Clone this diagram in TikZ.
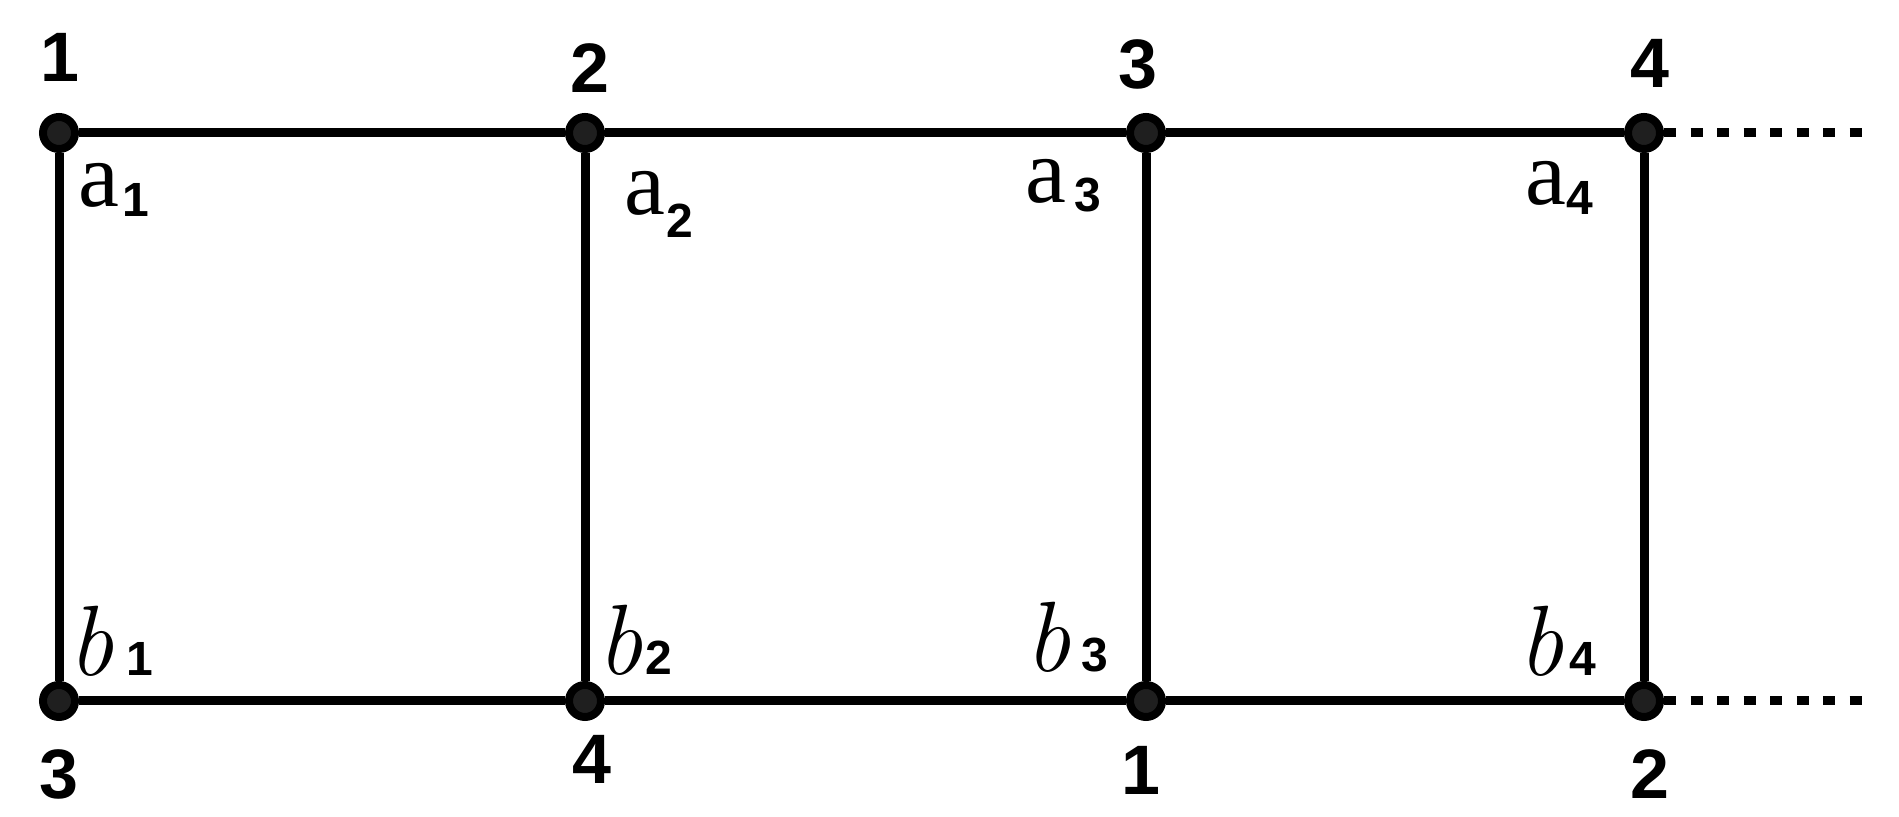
\documentclass[tikz,border=0pt]{standalone}
\usepackage{fontspec}
\newfontfamily\numfont{Liberation Sans}
\newfontfamily\serifa{Liberation Serif}
\newcommand\subf{\numfont\upshape\bfseries\fontsize{24}{28}\selectfont}
\newcommand\afnt{\serifa\fontsize{46}{50}\selectfont}
\newcommand\bfnt{\itshape\fontsize{50}{55}\selectfont}
\begin{document}
\begin{tikzpicture}[x=1pt,y=1pt,
  edge/.style={line width=4.5pt},
  dotline/.style={line width=4.5pt, dash pattern=on 6pt off 7.25pt},
  vtx/.style={circle, draw=black, fill=black!88, line width=4pt, minimum size=16pt, inner sep=0pt},
  num/.style={inner sep=0pt, font=\numfont\bfseries\fontsize{35}{40}\selectfont},
  lab/.style={inner sep=0pt, anchor=base west}]
\useasboundingbox (0,0) rectangle (949.5,408.5);
% vertices
\node[vtx] (a1) at (29.5,342) {};
\node[vtx] (a2) at (292.5,342) {};
\node[vtx] (a3) at (573,342) {};
\node[vtx] (a4) at (822,342) {};
\node[vtx] (b1) at (29.5,58) {};
\node[vtx] (b2) at (292.5,58) {};
\node[vtx] (b3) at (573,58) {};
\node[vtx] (b4) at (822,58) {};
\coordinate (ea) at (934,342);
\coordinate (eb) at (937,58);
% edges
\draw[edge] (a1) -- (a2);
\draw[edge] (a2) -- (a3);
\draw[edge] (a3) -- (a4);
\draw[edge] (b1) -- (b2);
\draw[edge] (b2) -- (b3);
\draw[edge] (b3) -- (b4);
\draw[edge] (a1) -- (b1);
\draw[edge] (a2) -- (b2);
\draw[edge] (a3) -- (b3);
\draw[edge] (a4) -- (b4);
\draw[dotline] (a4) -- (ea);
\draw[dotline] (b4) -- (eb);
% numbers
\node[num] (n1) at (30,380) {1};
\node[num] (n2) at (295,374.5) {2};
\node[num] (n3) at (569,376.5) {3};
\node[num] (n4) at (825,377) {4};
\node[num] (m3) at (29.5,21.5) {3};
\node[num] (m4) at (296,29) {4};
\node[num] (m1) at (570.5,23.5) {1};
\node[num] (m2) at (825,21.5) {2};
% a labels
\node[lab] (la1) at (39,305) {\afnt a\hspace{1.5pt}\raisebox{-5pt}{\subf 1}};
\node[lab] (la2) at (312,301) {\afnt a\hspace{0.5pt}\raisebox{-11.5pt}{\subf 2}};
\node[lab] (la3) at (512.5,307) {\afnt a\hspace{4pt}\raisebox{-4.5pt}{\subf 3}};
\node[lab] (la4) at (762.5,306) {\afnt a\hspace{0pt}\raisebox{-5pt}{\subf 4}};
% b labels
\node[lab] (lb1) at (34,70.5) {\bfnt b\hspace{6.5pt}{\subf 1}};
\node[lab] (lb2) at (298.5,71) {\bfnt b\hspace{1.5pt}{\subf 2}};
\node[lab] (lb3) at (512.5,72.5) {\bfnt b\hspace{5.5pt}{\subf 3}};
\node[lab] (lb4) at (759,70.5) {\bfnt b\hspace{3pt}{\subf 4}};
\end{tikzpicture}
\end{document}
